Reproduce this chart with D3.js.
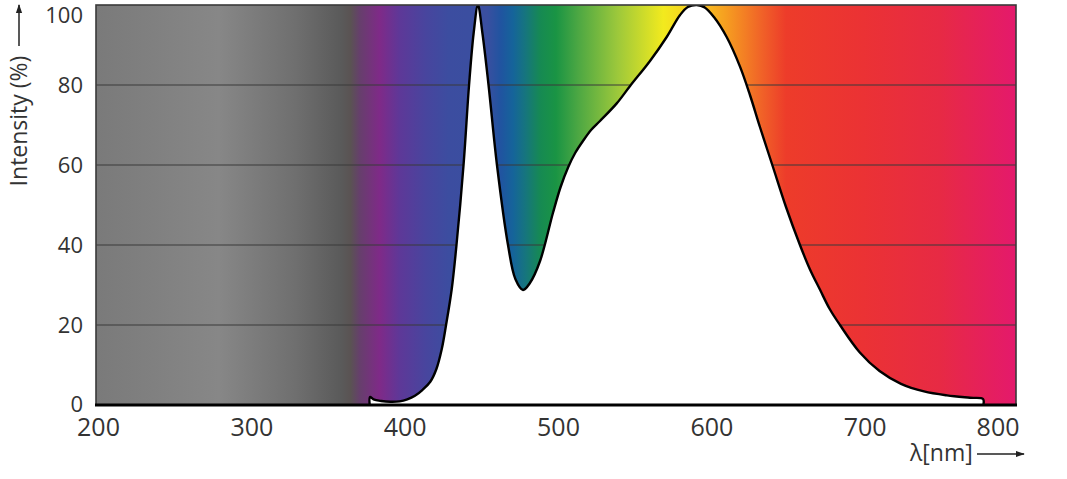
<!DOCTYPE html>
<html><head><meta charset="utf-8">
<script src="https://cdn.jsdelivr.net/npm/d3@7"></script>
<style>body{margin:0;background:#fff}svg{display:block}text{font-family:"Open Sans",sans-serif;fill:#333}</style>
</head><body>
<svg id="c" width="1067" height="479"></svg>
<script>
// ---- data ----
const wavelengths = [378.5,378.7,381,386,392,398,403,408,413,418,422,425.5,428.3,432,435.1,439.7,443.3,446.3,449.1,452,456,461.5,468.7,473.5,478.5,483,489.6,498,503,508,512.5,517.6,523,528.7,539.6,548.3,561.3,572.2,580.9,586,591.8,597,603,611.3,620,626.5,633,641.5,650,659.1,665.5,672.2,678.5,685.2,698,711,725,740,755,770,778.5,778.7];
const intensity   = [0,2,1.4,1.0,0.8,0.9,1.4,2.3,3.8,5.8,9,14,20,29,40,60,80,93,100,93,80,60,40,31.5,28.75,30.5,36,48,54.5,59.5,63,66,68.8,71,75.4,79.75,86,92,97.5,99.5,100,99.4,97,92,84.6,77.5,69.5,59.5,49.5,40,34,28.8,24,20,13.2,8.5,5.3,3.4,2.4,1.8,1.5,0];
const xTicks = [200,300,400,500,600,700,800];
const yTicks = [0,20,40,60,80,100];
const xTitle = "λ[nm]";
const yTitle = "Intensity (%)";
// background spectrum colours (wavelength, colour)
const specWl  = [200,280,330,360,366,372,385,398,415,430,455,464,472,480,490,500,515,540,570,590,610,635,650,700,750,800];
const specCol = ["#7a7a7a","#878787","#6f6f6f","#5a5a5a","#5a5353","#663f6c","#7f2a88","#5e3898","#48459e","#3c4da0","#3a4fa0","#2054a0","#15649a","#16757e","#168a52","#1a9444","#4ea843","#9cc83b","#f2ea1e","#f8cc20","#f6a020","#f06028","#ed3c2a","#eb3234","#e72a44","#e4196c"];

const svg = d3.select("#c");
const L=96,R=1016,T=5,B=405;
const x = d3.scaleLinear().domain([200,800]).range([L,R]);
const y = d3.scaleLinear().domain([0,100]).range([B,T]);

const defs = svg.append("defs");
const g = defs.append("linearGradient").attr("id","spec").attr("gradientUnits","userSpaceOnUse")
  .attr("x1",x(200)).attr("x2",x(800)).attr("y1",0).attr("y2",0);
specWl.forEach((w,i)=>g.append("stop").attr("offset",(w-200)/600).attr("stop-color",specCol[i]));
defs.append("clipPath").attr("id","plot").append("rect").attr("x",L).attr("y",T).attr("width",R-L).attr("height",B-T);
defs.append("marker").attr("id","arr").attr("viewBox","0 0 10 10").attr("refX",9).attr("refY",5)
  .attr("markerWidth",9).attr("markerHeight",9).attr("markerUnits","userSpaceOnUse").attr("orient","auto")
  .append("path").attr("d","M0,1.5L10,5L0,8.5Z").attr("fill","#222");

svg.append("rect").attr("x",L).attr("y",T).attr("width",R-L).attr("height",B-T).attr("fill","url(#spec)");

// gridlines
svg.append("g").selectAll("line").data(yTicks.filter(d=>d>0&&d<100)).join("line")
  .attr("x1",L).attr("x2",R).attr("y1",d=>y(d)).attr("y2",d=>y(d))
  .attr("stroke","#3a3a3a").attr("stroke-width",1.2);

// white spectrum area
const pts = wavelengths.map((w,i)=>[w,intensity[i]]);
const cv = d3.curveCatmullRom.alpha(0.5);
const area = d3.area().x(d=>x(d[0])).y0(y(0)).y1(d=>y(d[1])).curve(cv);
const line = d3.line().x(d=>x(d[0])).y(d=>y(d[1])).curve(cv);
const pg = svg.append("g").attr("clip-path","url(#plot)");
pg.append("path").attr("d",area(pts)).attr("fill","#fff");
pg.append("path").attr("d",line(pts)).attr("fill","none").attr("stroke","#000").attr("stroke-width",2.4).attr("stroke-linejoin","round");

// frame
svg.append("rect").attr("x",L).attr("y",T).attr("width",R-L).attr("height",B-T)
  .attr("fill","none").attr("stroke","#3a3a3a").attr("stroke-width",1.6);
svg.append("line").attr("x1",L-1).attr("x2",R+1).attr("y1",B).attr("y2",B).attr("stroke","#000").attr("stroke-width",3);

// axes
const xa = svg.append("g").attr("transform",`translate(0,${B})`)
  .call(d3.axisBottom(x).tickValues(xTicks).tickSize(0).tickPadding(13));
xa.select(".domain").remove();
xa.selectAll("text").style("font-size","25px").style("font-family","'Open Sans',sans-serif").attr("fill","#333")
  .attr("text-anchor",(d,i)=>i===xTicks.length-1?"end":"middle").attr("dx",(d,i)=>i===xTicks.length-1?3:2);
const ya = svg.append("g").attr("transform",`translate(${L},0)`)
  .call(d3.axisLeft(y).tickValues(yTicks).tickSize(0).tickPadding(13));
ya.select(".domain").remove();
ya.selectAll("text").style("font-size","22px").style("font-family","'Open Sans',sans-serif").attr("fill","#333")
  .attr("y",d=>d===100?10:(d===0?-1:0));

// axis titles
svg.append("text").attr("transform","translate(27,121) rotate(-90)").attr("text-anchor","middle")
  .style("font-size","23px").text(yTitle);
svg.append("line").attr("x1",19).attr("x2",19).attr("y1",46).attr("y2",5)
  .attr("stroke","#222").attr("stroke-width",1.5).attr("marker-end","url(#arr)");
svg.append("text").attr("x",910).attr("y",461).style("font-size","23px").text(xTitle);
svg.append("line").attr("x1",977).attr("x2",1024).attr("y1",454).attr("y2",454)
  .attr("stroke","#222").attr("stroke-width",1.5).attr("marker-end","url(#arr)");
</script>
</body></html>
